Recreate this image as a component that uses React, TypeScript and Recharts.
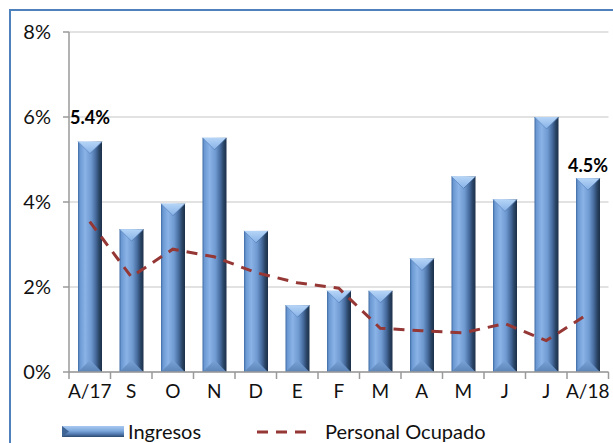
import React from "react";
import {
  ComposedChart,
  Bar,
  Line,
  XAxis,
  YAxis,
  CartesianGrid,
  Legend,
  LabelList,
} from "recharts";

const categories = ["A/17", "S", "O", "N", "D", "E", "F", "M", "A", "M", "J", "J", "A/18"];
const ingresos = [5.42, 3.36, 3.96, 5.51, 3.32, 1.57, 1.91, 1.91, 2.67, 4.6, 4.06, 6.0, 4.56];
const personalOcupado = [3.54, 2.24, 2.89, 2.71, 2.34, 2.1, 1.97, 1.03, 0.97, 0.92, 1.14, 0.74, 1.36];
const barLabels = ["5.4%", "", "", "", "", "", "", "", "", "", "", "", "4.5%"];
const yTicks = [0, 2, 4, 6, 8];

const data = categories.map((c, i) => ({
  cat: c,
  ingresos: ingresos[i],
  personal: personalOcupado[i],
  label: barLabels[i],
}));

const FONT = "Lato, 'Noto Sans', sans-serif";
const LINE_COLOR = "#953735";

const BevelBar = (props: any) => {
  const { x, y, width, height } = props;
  if (!height || height <= 0) return null;
  const b = Math.min(12, height / 2);
  return (
    <g>
      <rect x={x} y={y} width={width} height={height} fill="url(#barGrad)" />
      <polygon
        points={`${x},${y} ${x + width},${y} ${x + width / 2},${y + b}`}
        fill="url(#topGrad)"
      />
      <polygon
        points={`${x},${y + height} ${x + width},${y + height} ${x + width / 2},${y + height - b}`}
        fill="url(#botGrad)"
      />
      <line x1={x} y1={y} x2={x + width / 2} y2={y + b} stroke="#5f8cc7" strokeWidth={0.8} />
      <line x1={x + width} y1={y} x2={x + width / 2} y2={y + b} stroke="#4a73a8" strokeWidth={0.8} />
    </g>
  );
};

const XTick = (props: any) => {
  const { x, y, payload, index } = props;
  const n = categories.length;
  const half =
    payload && payload.offset ? payload.offset : (props.width ? props.width / (2 * n) : 20.75);
  return (
    <g>
      <line x1={x - half} y1={y} x2={x - half} y2={y + 7} stroke="#9a9a9a" strokeWidth={1.5} />
      {index === n - 1 && (
        <line x1={x + half} y1={y} x2={x + half} y2={y + 7} stroke="#9a9a9a" strokeWidth={1.5} />
      )}
      <text x={x} y={y + 26} textAnchor="middle" fontSize={19} fill="#111" fontFamily={FONT}>
        {payload.value}
      </text>
    </g>
  );
};

const BarLabel = (props: any) => {
  const { x, y, width, value, index } = props;
  if (!value) return null;
  const dy = index === 0 ? -18 : -6;
  return (
    <text
      x={x + width / 2}
      y={y + dy}
      textAnchor="middle"
      fontSize={18}
      fontWeight="bold"
      fill="#000"
      fontFamily={FONT}
    >
      {value}
    </text>
  );
};

const LegendContent = () => (
  <div style={{ position: "relative", width: 613, height: 25, fontFamily: FONT }}>
    <svg
      width={62}
      height={11}
      style={{ position: "absolute", left: 62, top: 8 }}
    >
      <defs>
        <linearGradient id="legGrad" x1="0" y1="0" x2="0" y2="1">
          <stop offset="0" stopColor="#a9c9f0" />
          <stop offset="0.45" stopColor="#7ca7dc" />
          <stop offset="0.75" stopColor="#4f78ad" />
          <stop offset="1" stopColor="#2d4a70" />
        </linearGradient>
      </defs>
      <rect x={0} y={0} width={62} height={11} fill="url(#legGrad)" />
      <polygon points="0,0 7,5.5 0,11" fill="#3f6597" />
    </svg>
    <span style={{ position: "absolute", left: 128, top: 1, fontSize: 20, lineHeight: "25px", color: "#111", whiteSpace: "nowrap" }}>
      Ingresos
    </span>
    <svg width={52} height={6} style={{ position: "absolute", left: 257, top: 11 }}>
      <line x1={0} y1={3} x2={52} y2={3} stroke={LINE_COLOR} strokeWidth={3} strokeDasharray="11 8" />
    </svg>
    <span style={{ position: "absolute", left: 325, top: 1, fontSize: 20, lineHeight: "25px", color: "#111", whiteSpace: "nowrap" }}>
      Personal Ocupado
    </span>
  </div>
);

export default function App() {
  return (
    <div
      style={{
        position: "absolute",
        left: 0,
        top: 0,
        width: 613,
        height: 443,
        overflow: "hidden",
        background: "#fff",
        fontFamily: FONT,
      }}
    >
      <div
        style={{
          position: "absolute",
          left: 9,
          top: 9,
          width: 700,
          height: 500,
          border: "2px solid #4f81bd",
        }}
      />
      <div style={{ position: "absolute", left: 0, top: 0 }}>
        <ComposedChart
          width={613}
          height={443}
          data={data}
          margin={{ top: 32, right: 4.5, left: 0, bottom: 0 }}
        >
          <defs>
            <linearGradient id="barGrad" x1="0" y1="0" x2="1" y2="0">
              <stop offset="0" stopColor="#3e6aa2" />
              <stop offset="0.08" stopColor="#6b98d2" />
              <stop offset="0.3" stopColor="#8ab3e7" />
              <stop offset="0.55" stopColor="#6e99d0" />
              <stop offset="0.75" stopColor="#45699b" />
              <stop offset="0.88" stopColor="#2a4566" />
              <stop offset="1" stopColor="#1c2f48" />
            </linearGradient>
            <linearGradient id="topGrad" x1="0" y1="0" x2="0" y2="1">
              <stop offset="0" stopColor="#b6d5f7" />
              <stop offset="1" stopColor="#86b1e6" />
            </linearGradient>
            <linearGradient id="botGrad" x1="0" y1="1" x2="0" y2="0">
              <stop offset="0" stopColor="#5c84b7" />
              <stop offset="1" stopColor="#7aa3d8" />
            </linearGradient>
          </defs>
          <CartesianGrid vertical={false} stroke="#d9d9d9" strokeWidth={1.5} />
          <XAxis
            dataKey="cat"
            height={46}
            tickLine={false}
            tickSize={0}
            tickMargin={0}
            axisLine={{ stroke: "#9a9a9a", strokeWidth: 1.5 }}
            tick={<XTick />}
            interval={0}
          />
          <YAxis
            width={69}
            domain={[0, 8]}
            ticks={yTicks}
            tickFormatter={(v: number) => `${v}%`}
            axisLine={{ stroke: "#9a9a9a", strokeWidth: 1.5 }}
            tickLine={{ stroke: "#9a9a9a", strokeWidth: 1.5 }}
            tickSize={6}
            tickMargin={12}
            tick={{ fontSize: 20, fill: "#111", fontFamily: FONT }}
          />
          <Legend verticalAlign="bottom" height={25} content={<LegendContent />} wrapperStyle={{ left: 0, width: 613 }} />
          <Bar dataKey="ingresos" barSize={24} shape={<BevelBar />} isAnimationActive={false}>
            <LabelList dataKey="label" content={<BarLabel />} />
          </Bar>
          <Line
            dataKey="personal"
            type="linear"
            stroke={LINE_COLOR}
            strokeWidth={3}
            strokeDasharray="11 8"
            dot={false}
            activeDot={false}
            isAnimationActive={false}
          />
        </ComposedChart>
      </div>
    </div>
  );
}
